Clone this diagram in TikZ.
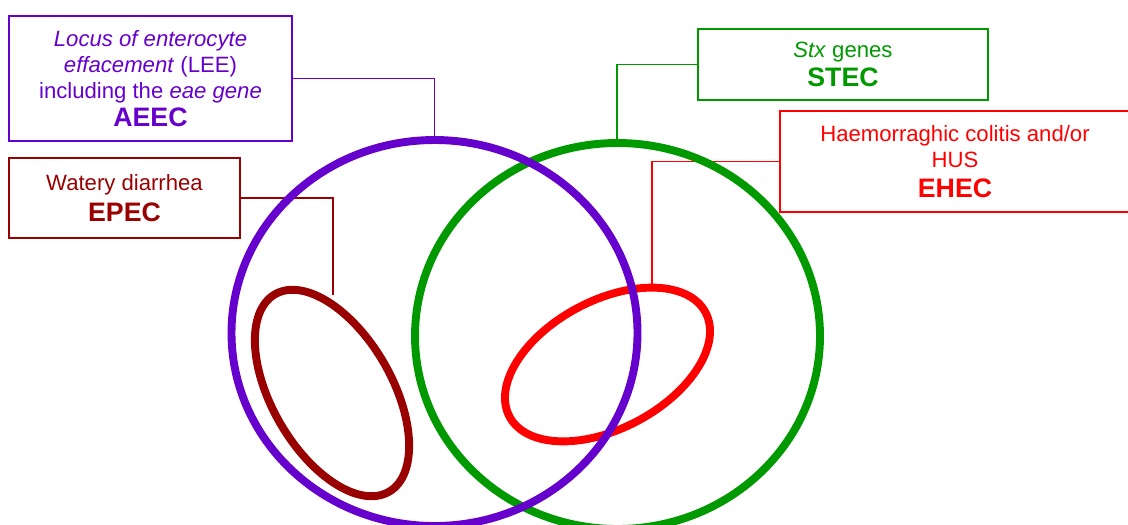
\documentclass[tikz,border=0pt]{standalone}
\usepackage{fontspec}
\setmainfont{Liberation Sans}
\definecolor{aeecc}{HTML}{6600CC}
\definecolor{epecc}{HTML}{990000}
\definecolor{stecc}{HTML}{009900}
\definecolor{ehecc}{HTML}{FF0000}
\newcommand{\tag}[1]{{\fontsize{15.2}{17}\selectfont\bfseries #1}}
\begin{document}
\begin{tikzpicture}[
        x=0.02cm, y=-0.02cm,
        box/.style={draw, line width=0.9pt, align=center, inner sep=0pt,
            font=\fontsize{12.6}{14.8}\selectfont},
        link/.style={line width=0.6pt},
        ring/.style={line width=4.5pt}
    ]
        \useasboundingbox (0,0) rectangle (1128,524);
        \clip (0,0) rectangle (1128,524);

        % Label boxes
        \node[box, aeecc, minimum width=5.66cm, minimum height=2.5cm] (aeec) at (150.5,78.5)
            {\textit{Locus of enterocyte}\\ \textit{effacement} (LEE)\\ including the \textit{eae gene}\\[1.5pt] \tag{AEEC}};
        \node[box, epecc, line width=1.1pt, minimum width=4.62cm, minimum height=1.6cm] (epec) at (124.5,198)
            {Watery diarrhea\\[2.5pt] \tag{EPEC}};
        \node[box, stecc, minimum width=5.8cm, minimum height=1.42cm] (stec) at (843,64.5)
            {\textit{Stx} genes\\[2pt] \tag{STEC}};
        \node[box, ehecc, minimum width=7cm, minimum height=2.02cm] (ehec) at (955,161.5)
            {Haemorraghic colitis and/or\\ HUS\\[2pt] \tag{EHEC}};

        % Ends of the connectors
        \coordinate (aeectop) at (434.5,140);
        \coordinate (epectop) at (333,295);
        \coordinate (stectop) at (617,142);
        \coordinate (ehectop) at (652,284);

        \draw[link, aeecc] (aeec.east) -| (aeectop);
        \draw[link, epecc] (epec.east) -| (epectop);
        \draw[link, stecc] (stec.west) -| (stectop);
        \draw[link, ehecc] (ehec.west) -| (ehectop);

        % Sets
        \draw[ring, stecc] (617.5,336) ellipse [x radius=202.5, y radius=193];
        \draw[ring, ehecc, shift={(607.5,364.5)}, rotate=28] (0,0) ellipse [x radius=111, y radius=64];
        \draw[ring, epecc, shift={(332,393)}, rotate=-60] (0,0) ellipse [x radius=114, y radius=60];
        \draw[ring, aeecc] (434.5,333) ellipse [x radius=203, y radius=193];
    \end{tikzpicture}
\end{document}
